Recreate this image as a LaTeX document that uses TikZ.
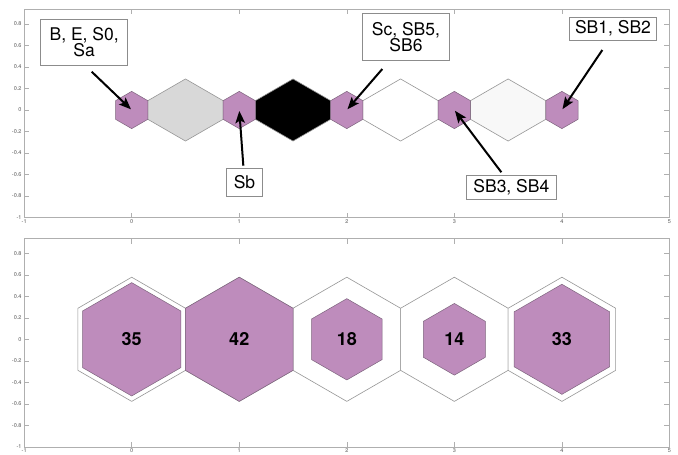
\documentclass[tikz,border=0pt]{standalone}
\usepackage{fontspec}
\setmainfont{TeX Gyre Heros}
\usetikzlibrary{arrows.meta}
\definecolor{hexpurple}{RGB}{190,140,188}
\definecolor{hexedge}{RGB}{125,100,125}
\definecolor{linegray}{RGB}{150,150,150}
\definecolor{axisgray}{RGB}{175,175,175}
\definecolor{ticktext}{RGB}{85,85,85}
\definecolor{boxgray}{RGB}{140,140,140}
\definecolor{lightfill}{RGB}{216,216,216}
\definecolor{palefill}{RGB}{248,248,248}
\newcommand{\myhex}[1]{(90:#1) -- (30:#1) -- (-30:#1) -- (-90:#1) -- (-150:#1) -- (150:#1) -- cycle}
\newcommand{\mylink}{(-0.35,0.0866) -- (0,0.2887) -- (0.35,0.0866) -- (0.35,-0.0866) -- (0,-0.2887) -- (-0.35,-0.0866) -- cycle}
\newcommand{\myaxes}{%
  \draw[axisline] (-1,-1) rectangle (5,0.937);
  \foreach \t in {-1,0,1,2,3,4,5} {
    \draw[axisline] (\t,-1) -- ++(0,5pt);
    \draw[axisline] (\t,0.937) -- ++(0,-5pt);
    \node[ticklbl,anchor=north] at ([yshift=-2pt]\t,-1) {\t};
  }
  \foreach \t in {-1,-0.8,-0.6,-0.4,-0.2,0,0.2,0.4,0.6,0.8} {
    \draw[axisline] (-1,\t) -- ++(5pt,0);
    \draw[axisline] (5,\t) -- ++(-5pt,0);
    \node[ticklbl,anchor=east] at ([xshift=-2.5pt]-1,\t) {\t};
  }
}
\begin{document}
\begin{tikzpicture}[x=1pt,y=1pt,
  axisline/.style={draw=axisgray,line width=0.5pt},
  ticklbl/.style={text=ticktext,font=\fontsize{5.5}{6}\selectfont,inner sep=0pt},
  purplehex/.style={fill=hexpurple,draw=hexedge,line width=0.5pt},
  outlinehex/.style={draw=linegray,line width=0.6pt,fill=white},
  linkshape/.style={draw=linegray,line width=0.6pt},
  labelbox/.style={draw=boxgray,fill=white,line width=0.6pt,inner sep=0pt,align=center,
    font=\fontsize{17.5}{16}\selectfont},
  numlabel/.style={font=\bfseries\fontsize{18}{20}\selectfont},
  pointer/.style={line width=2pt,-{Stealth[length=12pt,width=9.5pt,inset=2.5pt]},shorten >=1pt}]
\useasboundingbox (0,0) rectangle (678,-455);
\fill[white] (0,0) rectangle (678,-455);

% ---------- top panel ----------
\begin{scope}[shift={(131.7,-110)},x=107.55pt,y=107.55pt]
  \myaxes
  \foreach \c/\f in {0.5/lightfill,1.5/black,2.5/white,3.5/palefill}
    \draw[linkshape,fill=\f,shift={(\c,0)}] \mylink;
  \foreach \i in {0,...,4} {
    \coordinate (h\i) at (\i,0);
    \draw[purplehex,shift={(\i,0)}] \myhex{0.1732};
  }
  \node[labelbox,minimum width=87pt,minimum height=46pt] (lb1) at (-0.442,0.632) {B, E, S0,\\Sa};
  \node[labelbox,minimum width=35.6pt,minimum height=28.4pt] (lb2) at (1.049,-0.674) {Sb};
  \node[labelbox,minimum width=87.4pt,minimum height=46.7pt] (lb3) at (2.550,0.682) {Sc, SB5,\\SB6};
  \node[labelbox,minimum width=86.6pt,minimum height=22.7pt] (lb4) at (4.475,0.756) {SB1, SB2};
  \node[labelbox,minimum width=90pt,minimum height=23.3pt] (lb5) at (3.530,-0.719) {SB3, SB4};
  \coordinate (t1) at (-0.372,0.356);
  \coordinate (t2) at (1.038,-0.518);
  \coordinate (t3) at (2.330,0.381);
  \coordinate (t4) at (4.376,0.558);
  \coordinate (t5) at (3.437,-0.579);
  \draw[pointer] (t1) -- (h0);
  \draw[pointer] (t2) -- (h1);
  \draw[pointer] (t3) -- (h2);
  \draw[pointer] (t4) -- (h4);
  \draw[pointer] (t5) -- (h3);
\end{scope}

% ---------- bottom panel ----------
\begin{scope}[shift={(131.7,-339.3)},x=107.55pt,y=107.55pt]
  \myaxes
  \foreach \i in {0,...,4} {
    \coordinate (c\i) at (\i,0);
    \draw[outlinehex,shift={(\i,0)}] \myhex{0.57735};
  }
  \foreach \i/\r/\v in {0/0.5270/35,1/0.57735/42,2/0.3780/18,3/0.3333/14,4/0.5118/33} {
    \draw[purplehex,shift={(\i,0)}] \myhex{\r};
    \node[numlabel] (n\i) at (c\i) {\v};
  }
\end{scope}
\end{tikzpicture}
\end{document}
